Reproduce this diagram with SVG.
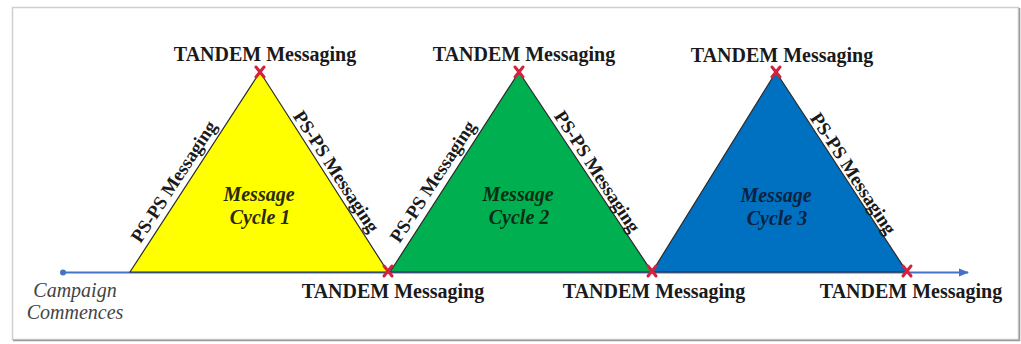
<svg xmlns="http://www.w3.org/2000/svg" width="1021" height="344" viewBox="0 0 1021 344">
<defs>
<style>
.tri{stroke:#2b2b2b;stroke-width:1.2;stroke-linejoin:miter}
.tl{font-family:"Liberation Serif","Times New Roman",serif;font-weight:bold;font-size:20px;fill:#1a1a1a;text-anchor:middle}
.ps{font-family:"Liberation Serif","Times New Roman",serif;font-weight:bold;font-size:19px;fill:#1a1a1a;text-anchor:middle}
.mc{font-family:"Liberation Serif","Times New Roman",serif;font-weight:bold;font-style:italic;font-size:20px;text-anchor:middle}
.cc{font-family:"Liberation Serif","Times New Roman",serif;font-style:italic;font-size:20px;fill:#444;text-anchor:middle}
.x{stroke:#d4213d;stroke-width:3;stroke-linecap:round}
</style>
<marker id="arr" viewBox="0 0 10 10" refX="9" refY="5" markerWidth="5" markerHeight="5" orient="auto">
<path d="M0,1 L10,5 L0,9 Z" fill="#4472c4"/>
</marker>
<g id="xm"><line class="x" x1="-4" y1="-5" x2="4" y2="5"/><line class="x" x1="4" y1="-5" x2="-4" y2="5"/></g>
</defs>
<rect x="0" y="0" width="1021" height="344" fill="#fff"/>
<rect x="12.5" y="7.5" width="1006" height="332" fill="#fff" stroke="#cfcfcf" stroke-width="1.5"/>
<path d="M13,340.5 H1019.5 V8" fill="none" stroke="#9a9a9a" stroke-width="1.5"/>

<g id="connectors">
<line x1="63" y1="272.5" x2="968" y2="272.5" stroke="#4472c4" stroke-width="2" marker-end="url(#arr)"/>
<circle cx="63" cy="272.5" r="3" fill="#4472c4"/>
</g>

<g id="cycle1">
<polygon class="tri" points="130,272 260,72 388,272" fill="#ffff00"/>
<text class="mc" x="259" y="201" fill="#2a2a10">Message</text>
<text class="mc" x="260" y="224" fill="#2a2a10">Cycle 1</text>
<text class="ps" transform="translate(179,185) rotate(-57)">PS-PS Messaging</text>
<text class="ps" transform="translate(331,175) rotate(57)">PS-PS Messaging</text>
</g>

<g id="cycle2">
<polygon class="tri" points="390,272 519,72 652,272" fill="#00b050"/>
<text class="mc" x="518" y="201" fill="#0b2e15">Message</text>
<text class="mc" x="519" y="224" fill="#0b2e15">Cycle 2</text>
<text class="ps" transform="translate(438,185) rotate(-57)">PS-PS Messaging</text>
<text class="ps" transform="translate(592,175) rotate(57)">PS-PS Messaging</text>
</g>

<g id="cycle3">
<polygon class="tri" points="652,272 776,72 907,272" fill="#0070c0"/>
<text class="mc" x="776" y="202" fill="#0b2240">Message</text>
<text class="mc" x="777" y="225" fill="#0b2240">Cycle 3</text>
<text class="ps" transform="translate(848,177) rotate(57)">PS-PS Messaging</text>
</g>

<g id="tandem-top1"><text class="tl" x="265" y="61">TANDEM Messaging</text><use href="#xm" x="260" y="72"/></g>
<g id="tandem-top2"><text class="tl" x="524" y="61">TANDEM Messaging</text><use href="#xm" x="519" y="72"/></g>
<g id="tandem-top3"><text class="tl" x="782" y="62">TANDEM Messaging</text><use href="#xm" x="776" y="72"/></g>
<g id="tandem-bot1"><text class="tl" x="393" y="298">TANDEM Messaging</text><use href="#xm" x="388" y="271"/></g>
<g id="tandem-bot2"><text class="tl" x="654" y="298">TANDEM Messaging</text><use href="#xm" x="652" y="271"/></g>
<g id="tandem-bot3"><text class="tl" x="911" y="298">TANDEM Messaging</text><use href="#xm" x="907" y="271"/></g>

<g id="campaign">
<text class="cc" x="75" y="297">Campaign</text>
<text class="cc" x="75" y="319">Commences</text>
</g>
</svg>
